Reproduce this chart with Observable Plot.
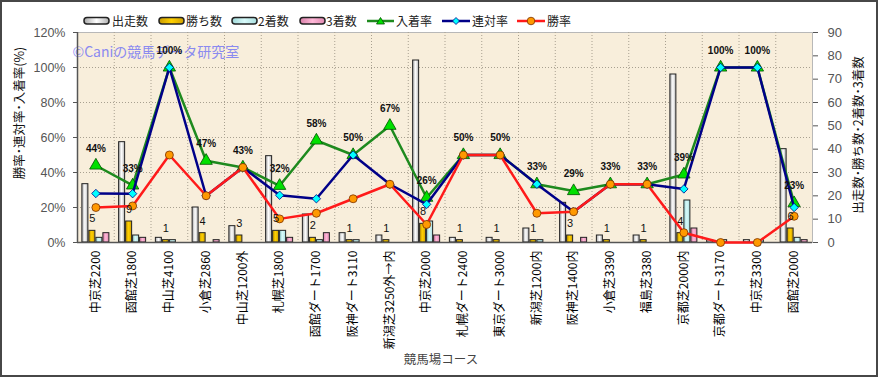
<!DOCTYPE html>
<html><head><meta charset="utf-8">
<script src="https://cdn.jsdelivr.net/npm/d3@7"></script>
<script src="https://cdn.jsdelivr.net/npm/@observablehq/plot@0.6"></script>
<style>
body{margin:0;background:#fff;}
#wrap{position:relative;width:881px;height:378px;overflow:hidden;font-family:"Liberation Sans","Noto Sans CJK JP",sans-serif;}
#border{position:absolute;left:0;top:0;width:878px;height:377px;box-sizing:border-box;border:2px solid #474747;pointer-events:none;}
.leg{position:absolute;top:14px;height:14px;font-size:12px;line-height:14px;color:#222;font-family:"Noto Sans CJK JP",sans-serif;white-space:nowrap;}
.leg svg{position:absolute;top:2px;}
.vt{position:absolute;font-family:"Noto Sans CJK JP",sans-serif;font-size:12.5px;color:#111;white-space:nowrap;transform:translate(-50%,-50%) rotate(-90deg);}
#xt{position:absolute;left:441px;top:358px;transform:translate(-50%,-50%);font-family:"Noto Sans CJK JP",sans-serif;font-size:12.5px;color:#444;white-space:nowrap;}
</style></head>
<body>
<svg width="0" height="0" style="position:absolute">
<defs>
<linearGradient id="gw" x1="0" x2="1" y1="0" y2="0"><stop offset="0" stop-color="#a8a8a8"/><stop offset="0.5" stop-color="#ffffff"/><stop offset="1" stop-color="#b0b0b0"/></linearGradient>
<linearGradient id="gg" x1="0" x2="1" y1="0" y2="0"><stop offset="0" stop-color="#c89a00"/><stop offset="0.5" stop-color="#ffd000"/><stop offset="1" stop-color="#d0a000"/></linearGradient>
<linearGradient id="gc" x1="0" x2="1" y1="0" y2="0"><stop offset="0" stop-color="#9fd8d8"/><stop offset="0.5" stop-color="#d8fafa"/><stop offset="1" stop-color="#a8dede"/></linearGradient>
<linearGradient id="gp" x1="0" x2="1" y1="0" y2="0"><stop offset="0" stop-color="#d880a8"/><stop offset="0.5" stop-color="#ffb8d8"/><stop offset="1" stop-color="#e088b0"/></linearGradient>
</defs></svg>
<div id="wrap">
<div id="chart"></div>
<div class="leg" style="left:83px"><svg width="28" height="10"><rect x="1" y="1.5" width="25" height="6.5" rx="3" fill="url(#gw)" stroke="#222" stroke-width="1.5"/></svg><span style="margin-left:29px">出走数</span></div>
<div class="leg" style="left:158px"><svg width="28" height="10"><rect x="1" y="1.5" width="25" height="6.5" rx="3" fill="url(#gg)" stroke="#222" stroke-width="1.5"/></svg><span style="margin-left:28px">勝ち数</span></div>
<div class="leg" style="left:231px"><svg width="28" height="10"><rect x="1" y="1.5" width="25" height="6.5" rx="3" fill="url(#gc)" stroke="#222" stroke-width="1.5"/></svg><span style="margin-left:27px">2着数</span></div>
<div class="leg" style="left:299px"><svg width="28" height="10"><rect x="1" y="1.5" width="25" height="6.5" rx="3" fill="url(#gp)" stroke="#222" stroke-width="1.5"/></svg><span style="margin-left:27px">3着数</span></div>
<div class="leg" style="left:367px"><svg width="28" height="10"><line x1="0" x2="27" y1="5" y2="5" stroke="#1e8a1e" stroke-width="2.5"/><path d="M13.5,1.5 L17.5,8 L9.5,8 Z" fill="#00e000" stroke="#005000" stroke-width="0.8"/></svg><span style="margin-left:29px">入着率</span></div>
<div class="leg" style="left:442px"><svg width="30" height="10"><line x1="0" x2="28" y1="5" y2="5" stroke="#000088" stroke-width="2.5"/><path d="M14,1.5 L17.5,5 L14,8.5 L10.5,5 Z" fill="#00ffff" stroke="#000088" stroke-width="0.8"/></svg><span style="margin-left:30px">連対率</span></div>
<div class="leg" style="left:517px"><svg width="30" height="10"><line x1="0" x2="28" y1="5" y2="5" stroke="#ff1a1a" stroke-width="2.5"/><circle cx="14" cy="5" r="3.8" fill="#ff9900" stroke="#7a3000" stroke-width="0.8"/></svg><span style="margin-left:30px">勝率</span></div>
<div class="vt" style="left:18px;top:113px">勝率･連対率･入着率(%)</div>
<div class="vt" style="left:857px;top:135px">出走数･勝ち数･2着数･3着数</div>
<div id="xt">競馬場コース</div>
<div id="border"></div>
</div>
<script>
const courses = ["中京芝2200","函館芝1800","中山芝4100","小倉芝2860","中山芝1200外","札幌芝1800","函館ダート1700","阪神ダート3110","新潟芝3250外→内","中京芝2000","札幌ダート2400","東京ダート3000","新潟芝1200内","阪神芝1400内","小倉芝3390","福島芝3380","京都芝2000内","京都ダート3170","中京芝3300","函館芝2000"];
const starts  = [25,43,2,15,7,37,12,4,3,78,2,2,6,17,3,3,72,1,1,40];
const wins    = [5,9,1,4,3,5,2,1,1,8,1,1,1,3,1,1,4,0,0,6];
const seconds = [2,3,1,0,0,5,1,1,0,9,0,0,1,0,0,0,18,1,1,2];
const thirds  = [4,2,0,1,0,2,4,0,0,3,0,0,0,2,0,0,6,0,0,1];
const placeRate    = [44,32.6,100,46.7,42.9,32.4,58.3,50,66.7,25.6,50,50,33.3,29.4,33.3,33.3,38.9,100,100,22.5];
const quinellaRate = [28,27.9,100,26.7,42.9,27,25,50,33.3,21.8,50,50,33.3,17.6,33.3,33.3,30.6,100,100,20];
const winRate      = [20,20.9,50,26.7,42.9,13.5,16.7,25,33.3,10.3,50,50,16.7,17.6,33.3,33.3,5.6,0,0,15];
const leftTicks  = [0,20,40,60,80,100,120];
const rightTicks = [0,10,20,30,40,50,60,70,80,90];
const watermark = "©Caniの競馬データ研究室";

const k = 120/90; // count -> percent-axis conversion (right axis 0..90 over 0..120%)
const rows = courses.map((c,i)=>({course:c, starts:starts[i], wins:wins[i], seconds:seconds[i], thirds:thirds[i], place:placeRate[i], quin:quinellaRate[i], win:winRate[i]}));

const W = 881, H = 378, mL = 77, mR = 69, mT = 32, mB = 136;
const bw = (W - mL - mR) / courses.length;
const barW = 6, step = 7;
const inset = (bw - barW) / 2;
const bars = [["starts","url(#gw)"],["wins","url(#gg)"],["seconds","url(#gc)"],["thirds","url(#gp)"]];
const numFont = '"Liberation Sans Narrow","Liberation Sans",sans-serif';

const chart = Plot.plot({
  width: W, height: H,
  marginLeft: mL, marginRight: mR, marginTop: mT, marginBottom: mB,
  style: {background: "transparent", fontFamily: '"Liberation Sans","Noto Sans CJK JP",sans-serif', overflow: "visible"},
  x: {type: "band", domain: courses, padding: 0, round: false},
  y: {domain: [0, 120]},
  marks: [
    Plot.frame({fill: "#f8eedb", stroke: "#b8b8b8"}),
    Plot.text([watermark], {frameAnchor: "top-left", dx: -5, dy: 15, textAnchor: "start", fill: "#8a8af0", fontSize: 14, fontFamily: '"Noto Sans CJK JP",sans-serif'}),
    Plot.ruleY(leftTicks.slice(1, -1), {stroke: "#a8a090", strokeDasharray: "1,2"}),
    Plot.ruleX(courses.slice(1), {dx: -bw/2, stroke: "#a8a090", strokeDasharray: "1,2"}),
    ...bars.map(([key, fill], i) => Plot.barY(rows, {x: "course", y: d => d[key] * k, fill, stroke: "#222", strokeWidth: 1, insetLeft: inset, insetRight: inset, dx: (i - 1.5) * step})),
    Plot.ruleY([0], {stroke: "#555", strokeWidth: 1.5}),
    Plot.ruleX([courses[0]], {dx: -bw/2, stroke: "#555", strokeWidth: 1.5}),
    Plot.line(rows, {x: "course", y: "place", stroke: "#1e8a1e", strokeWidth: 2.5}),
    Plot.dot(rows, {x: "course", y: "place", symbol: "triangle", r: 4.6, fill: "#00e000", stroke: "#005000", strokeWidth: 0.8}),
    Plot.line(rows, {x: "course", y: "quin", stroke: "#000088", strokeWidth: 2.5}),
    Plot.dot(rows, {x: "course", y: "quin", symbol: "diamond2", r: 3.8, fill: "#00ffff", stroke: "#000088", strokeWidth: 0.8}),
    Plot.line(rows, {x: "course", y: "win", stroke: "#ff1a1a", strokeWidth: 2.5}),
    Plot.dot(rows, {x: "course", y: "win", r: 4, fill: "#ff9900", stroke: "#7a3000", strokeWidth: 0.8}),
    Plot.text(rows, {x: "course", y: "place", text: d => Math.round(d.place) + "%", dy: -17, fontSize: 10, fontWeight: "bold", fill: "#111", fontFamily: numFont}),
    Plot.text(rows.filter(d => d.wins > 0), {x: "course", y: d => d.wins * k, text: d => String(d.wins), dx: -0.5 * step, dy: -12, fontSize: 11, fill: "#111"}),
    Plot.axisY({ticks: leftTicks, tickFormat: d => d + "%", tickSize: 4, tickPadding: 8, fontSize: 12.5, color: "#555", label: null, fontFamily: numFont}),
    Plot.axisY({anchor: "right", ticks: rightTicks.map(v => v * k), tickFormat: v => String(Math.round(v / k)), tickSize: 5, tickPadding: 10, fontSize: 13, color: "#555", label: null, fontFamily: numFont}),
    Plot.axisX({tickRotate: -90, tickSize: 0, tickPadding: 8, fontSize: 12, color: "#000", label: null, fontFamily: '"Noto Sans CJK JP",sans-serif'})
  ]
});
document.getElementById("chart").appendChild(chart);
</script>
</body></html>
